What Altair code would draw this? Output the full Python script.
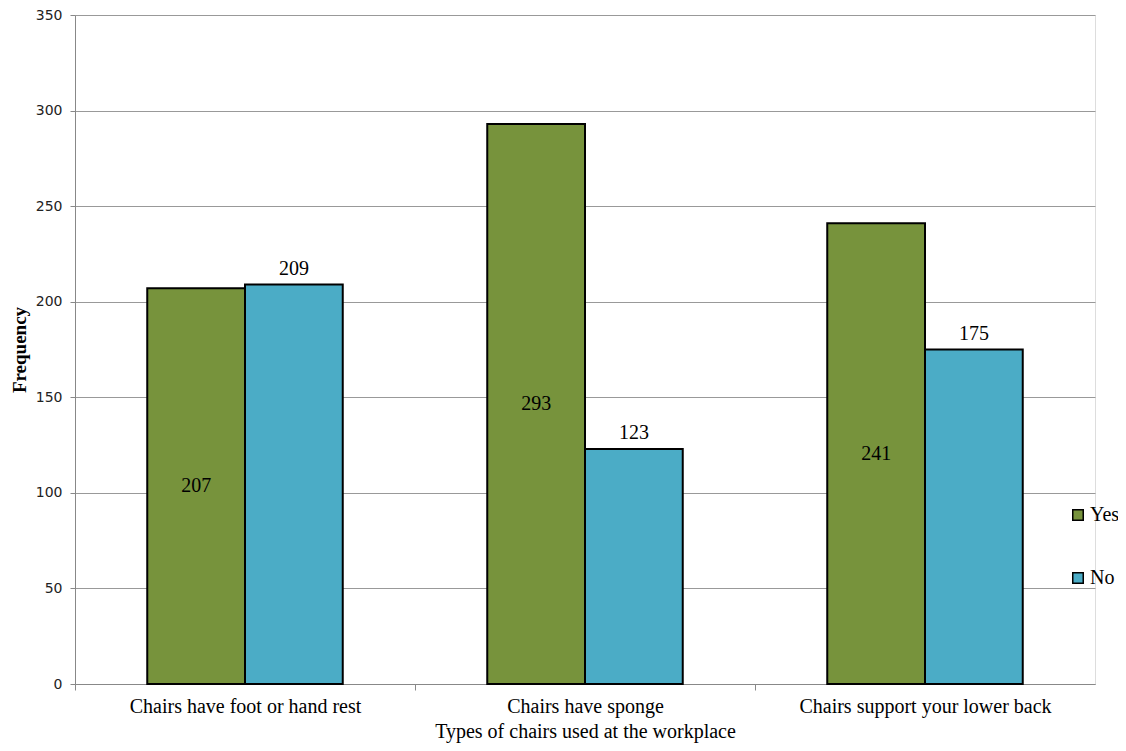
import altair as alt
import pandas as pd

categories = ["Chairs have foot or hand rest", "Chairs have sponge", "Chairs support your lower back"]
yes_values = [207, 293, 241]
no_values = [209, 123, 175]
series = ["Yes", "No"]
colors = ["#77933C", "#4BACC6"]

rows = []
for c, y, n in zip(categories, yes_values, no_values):
    rows.append({"cat": c, "resp": "Yes", "val": y, "mid": y / 2})
    rows.append({"cat": c, "resp": "No", "val": n, "mid": n / 2})
df = pd.DataFrame(rows)

xenc = alt.X("cat:N", sort=categories, title="Types of chairs used at the workplace",
             scale=alt.Scale(paddingInner=0.425, paddingOuter=0.2125),
             axis=alt.Axis(labelAngle=0, labelFont="Liberation Serif", labelFontSize=20,
                           labelColor="black", labelLimit=0, titleFont="Liberation Serif",
                           titleFontSize=20, titleFontWeight="normal", titleColor="black",
                           titlePadding=5, labelPadding=6, domainColor="#888", tickColor="#888",
                           tickOffset=-170, labelOffset=170, tickSize=6, grid=False))
xoff = alt.XOffset("resp:N", sort=series, scale=alt.Scale(paddingInner=0, paddingOuter=0))
yscale = alt.Scale(domain=[0, 350])

base = alt.Chart(df)

bars = base.mark_bar(stroke="black", strokeWidth=2).encode(
    x=xenc, xOffset=xoff,
    y=alt.Y("val:Q", scale=yscale, title="Frequency",
            axis=alt.Axis(values=list(range(0, 351, 50)), labelFont="DejaVu Sans",
                          labelFontSize=14, labelColor="#222", titleFont="Liberation Serif",
                          titleFontSize=19, titleFontWeight="bold", titleColor="black",
                          titlePadding=6, domainColor="#888", tickColor="#888", tickSize=5,
                          gridColor="#999", gridWidth=1, labelPadding=8)),
    color=alt.Color("resp:N", sort=series, scale=alt.Scale(domain=series, range=colors),
                    legend=alt.Legend(title=None, orient="none", legendX=993, legendY=490,
                                      symbolType="square", symbolSize=110,
                                      symbolStrokeColor="black", symbolStrokeWidth=1.5,
                                      labelFont="Liberation Serif", labelFontSize=20,
                                      labelColor="black", rowPadding=43, labelOffset=2)),
)

yes_text = base.transform_filter(alt.datum.resp == "Yes").mark_text(
    font="Liberation Serif", fontSize=20, color="black", baseline="middle").encode(
    x=alt.X("cat:N", sort=categories), xOffset=xoff,
    y=alt.Y("mid:Q", scale=yscale), text="val:Q")

no_text = base.transform_filter(alt.datum.resp == "No").mark_text(
    font="Liberation Serif", fontSize=20, color="black", baseline="bottom", dy=-6).encode(
    x=alt.X("cat:N", sort=categories), xOffset=xoff,
    y=alt.Y("val:Q", scale=yscale), text="val:Q")

chart = alt.layer(bars, yes_text, no_text).properties(
    width=1020, height=669,
    autosize=alt.AutoSizeParams(type="none"),
    padding={"left": 67, "top": 7, "right": 23, "bottom": 60},
).configure_view(stroke=None).configure(background="white")

chart.save("out.html", embed_options={"renderer": "svg", "actions": False})
